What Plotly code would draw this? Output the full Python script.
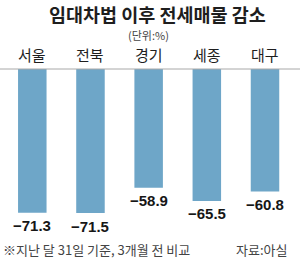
import plotly.graph_objects as go

categories = ["서울", "전북", "경기", "세종", "대구"]
values = [-71.3, -71.5, -58.9, -65.5, -60.8]

title = "임대차법 이후 전세매물 감소"
unit = "(단위:%)"
note = "※지난 달 31일 기준, 3개월 전 비교"
source = "자료:아실"

W, H = 300, 258
KR = "Noto Sans CJK KR"
bar_color = "#6ea6c8"

xs = list(range(len(categories)))

fig = go.Figure()
fig.add_trace(go.Bar(
    x=xs, y=values, width=0.49,
    marker=dict(color=bar_color, line=dict(width=0)),
    hoverinfo="skip",
))

annotations = []
# value labels
for x, v in zip(xs, values):
    annotations.append(dict(
        x=x, y=v, xref="x", yref="y", text=f"\u2212{abs(v):.1f}",
        showarrow=False, yanchor="middle", xanchor="center", yshift=-13,
        font=dict(family="Liberation Sans", size=15, color="#161616", weight="bold"),
    ))
# category labels
for x, c in zip(xs, categories):
    annotations.append(dict(
        x=x, y=1 - 54 / H, xref="x", yref="paper", text=c,
        showarrow=False, yanchor="middle", xanchor="center",
        font=dict(family=KR, size=15, color="#1e1e1e"),
    ))
annotations += [
    dict(x=157 / W, y=1, xref="paper", yref="paper", text=title,
         showarrow=False, xanchor="center", yanchor="top", borderpad=0,
         font=dict(family=KR, size=18.5, color="#1e1e1e", weight="bold")),
    dict(x=148 / W, y=1 - 34.5 / H, xref="paper", yref="paper", text=unit,
         showarrow=False, xanchor="center", yanchor="middle", borderpad=0,
         font=dict(family=KR, size=11, color="#444444")),
    dict(x=1 / W, y=1 - 249.5 / H, xref="paper", yref="paper", text=note,
         showarrow=False, xanchor="left", yanchor="middle",
         font=dict(family=KR, size=13, color="#444444")),
    dict(x=289 / W, y=1 - 249.5 / H, xref="paper", yref="paper", text=source,
         showarrow=False, xanchor="right", yanchor="middle",
         font=dict(family=KR, size=13, color="#444444")),
]

zero_px = 69
scale = 2.015  # px per unit
y_top = zero_px / scale
y_bot = -(H - zero_px) / scale
px_unit = (265 - 32.3) / 4
x0 = -32.3 / px_unit
x1 = x0 + W / px_unit

fig.update_layout(
    width=W, height=H,
    margin=dict(l=0, r=0, t=0, b=0),
    paper_bgcolor="white", plot_bgcolor="white",
    showlegend=False,
    xaxis=dict(range=[x0, x1], visible=False, fixedrange=True),
    yaxis=dict(range=[y_bot, y_top], visible=False, fixedrange=True),
    annotations=annotations,
    shapes=[dict(type="line", xref="paper", yref="y", x0=0, x1=1, y0=0, y1=0,
                 line=dict(color="#a8a8a8", width=1))],
)

fig.write_html("out.html", config={"displayModeBar": False})
